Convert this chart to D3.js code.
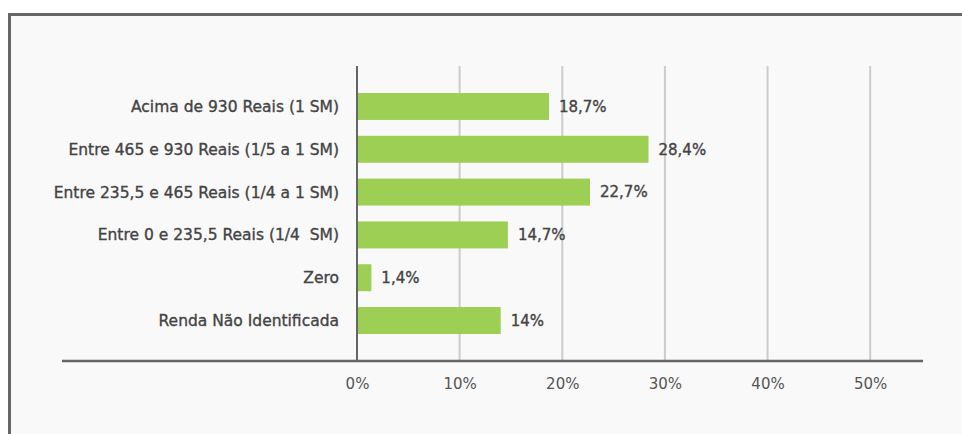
<!DOCTYPE html>
<html><head><meta charset="utf-8">
<script src="https://cdn.jsdelivr.net/npm/d3@7"></script>
<style>
html,body{margin:0;padding:0;background:#fff;}
svg{display:block;}
text{white-space:pre;}
</style></head>
<body>
<svg id="chart" width="962" height="434"></svg>
<script>
const categories = ["Acima de 930 Reais (1 SM)","Entre 465 e 930 Reais (1/5 a 1 SM)","Entre 235,5 e 465 Reais (1/4 a 1 SM)","Entre 0 e 235,5 Reais (1/4  SM)","Zero","Renda Não Identificada"];
const values = [18.7, 28.4, 22.7, 14.7, 1.4, 14];
const valueLabels = ["18,7%","28,4%","22,7%","14,7%","1,4%","14%"];
const tickValues = [0,10,20,30,40,50];
const tickLabels = ["0%","10%","20%","30%","40%","50%"];

const svg = d3.select("#chart");
const font = "'DejaVu Sans', sans-serif";

// frame
svg.append("rect").attr("x",9.5).attr("y",14.5).attr("width",962).attr("height",430)
  .attr("fill","#f9f9f9").attr("stroke","#666").attr("stroke-width",3);

const x = d3.scaleLinear().domain([0,55]).range([357,921.5]);
const y = d3.scaleBand().domain(categories).range([66,361]).paddingInner(0.37).paddingOuter(0.63);

// grid
svg.append("g").selectAll("line").data(tickValues.filter(d=>d>0)).join("line")
  .attr("x1",d=>x(d)).attr("x2",d=>x(d)).attr("y1",66).attr("y2",361)
  .attr("stroke","#cccccc").attr("stroke-width",2);

// bars
svg.append("g").selectAll("rect").data(values).join("rect")
  .attr("x",x(0)).attr("y",(d,i)=>y(categories[i]))
  .attr("width",d=>x(d)-x(0)).attr("height",y.bandwidth())
  .attr("fill","#9ccf53");

// zero line
svg.append("line").attr("x1",x(0)).attr("x2",x(0)).attr("y1",66).attr("y2",361)
  .attr("stroke","#666").attr("stroke-width",2);
// bottom axis line
svg.append("line").attr("x1",62).attr("x2",923).attr("y1",361).attr("y2",361)
  .attr("stroke","#666").attr("stroke-width",2.5);

// category labels
svg.append("g").selectAll("text").data(categories).join("text")
  .attr("x",339).attr("y",d=>y(d)+y.bandwidth()/2)
  .attr("dy","0.36em").attr("text-anchor","end")
  .attr("font-family",font).attr("font-size",15.5)
  .attr("fill","#444").attr("stroke","#444").attr("stroke-width",0.35).text(d=>d);

// value labels
svg.append("g").selectAll("text").data(values).join("text")
  .attr("x",d=>x(d)+10).attr("y",(d,i)=>y(categories[i])+y.bandwidth()/2)
  .attr("dy","0.36em")
  .attr("font-family",font).attr("font-size",15)
  .attr("fill","#444").attr("stroke","#444").attr("stroke-width",0.35).text((d,i)=>valueLabels[i]);

// tick labels
const xAxis = d3.axisBottom(x).tickValues(tickValues).tickFormat((d,i)=>tickLabels[i]).tickSize(0).tickPadding(0);
const ax = svg.append("g").attr("transform","translate(0,388.5)").call(xAxis);
ax.select(".domain").remove();
ax.selectAll("text").attr("dy",0).attr("y",0)
  .attr("font-family",font).attr("font-size",15).attr("fill","#555");
</script>
</body></html>
